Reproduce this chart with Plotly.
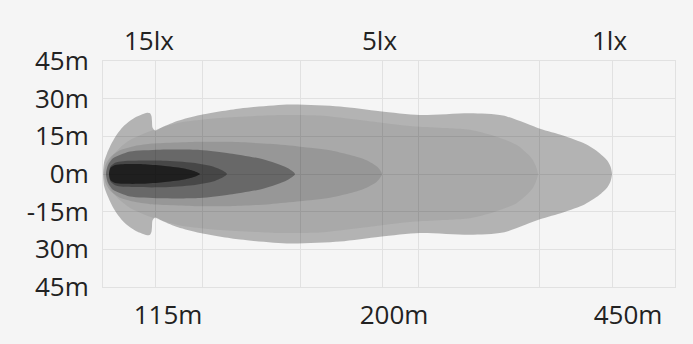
import plotly.graph_objects as go

# ---- data (x in chart distance units, y = half-width in metres) ----
zone_names = ["zone1", "zone2", "zone3", "zone4", "zone5", "zone6"]

zone1_x = [6, 7.5, 12, 20, 40, 60, 80, 91, 97]
zone1_y = [0, 2.5, 3.6, 3.9, 3.9, 3.3, 2.3, 1.2, 0]

zone2_x = [6, 7.5, 12, 20, 60, 90, 110, 120, 124]
zone2_y = [0, 3.0, 4.5, 5.1, 5.3, 4.5, 3.0, 1.3, 0]

zone3_x = [3, 5, 10, 18, 27, 57, 97, 127, 160, 184, 192]
zone3_y = [0, 3.5, 6.3, 7.8, 9.0, 9.7, 9.6, 8.2, 5.9, 2.5, 0]

zone4_x = [1, 3, 8, 17, 30, 47, 97, 127, 167, 197, 227, 260, 274, 279]
zone4_y = [0, 4, 7, 9.5, 11, 12, 12.8, 12.8, 12, 10.9, 9.5, 6.1, 3.0, 0]

zone5_x = [3, 5, 9, 17, 27, 47, 77, 117, 177, 217, 257, 297, 317, 347, 367, 390, 414, 429, 433, 435]
zone5_y = [0, 4, 7, 10.5, 13.5, 17, 20.5, 22.3, 23.5, 23.3, 21.5, 19.5, 18.8, 18.2, 17.6, 15.3, 11.5, 6.1, 3.0, 0]

zone6_x = [0, 1.2, 4, 9, 14, 20, 27, 34, 40, 44, 47, 48.5, 49, 49.5, 52, 60, 75, 97, 137, 187,
           237, 277, 317, 367, 400, 437, 460, 482, 496, 504, 507.5, 509]
zone6_y = [0, 5, 8.2, 12.5, 15.8, 18.8, 21.2, 22.9, 23.9, 24.4, 24.2, 23, 21, 18.5, 17.3, 18.8, 21.2, 23.5, 26.1, 27.7,
           26.9, 25, 23.5, 24.2, 23.3, 18.0, 15.3, 12.0, 8.5, 5.5, 3.0, 0]

y_tickvals = [45, 30, 15, 0, -15, -30, -45]
y_ticktext = ["45m", "30m", "15m", "0m", "-15m", "30m", "45m"]

dist_label_pos = [65, 291, 525]
dist_labels = ["115m", "200m", "450m"]

lux_label_pos = [46, 276, 506]
lux_labels = ["15lx", "5lx", "1lx"]

grid_x = [52, 99, 197, 279, 315, 436, 509]

# ---- style ----
zone_alpha = {"zone6": 0.265, "zone5": 0.056, "zone4": 0.106,
              "zone3": 0.31, "zone2": 0.31, "zone1": 0.56}
zones = {
    "zone1": (zone1_x, zone1_y),
    "zone2": (zone2_x, zone2_y),
    "zone3": (zone3_x, zone3_y),
    "zone4": (zone4_x, zone4_y),
    "zone5": (zone5_x, zone5_y),
    "zone6": (zone6_x, zone6_y),
}

FONT = "Open Sans"
TXT = "#222222"
BG = "#f5f5f5"
GRID = "#e1e1e1"
FS = 26


def outline(xs, ys):
    # closed loop: upper edge left->right, lower edge right->left
    n = len(xs)
    lx = list(xs) + [xs[i] for i in range(n - 2, 0, -1)]
    ly = list(ys) + [-ys[i] for i in range(n - 2, 0, -1)]
    # start the path in the middle of the upper edge so both ends stay rounded
    m = n // 2
    px = lx[m:] + lx[:m + 1]
    py = ly[m:] + ly[:m + 1]
    return px, py


fig = go.Figure()
for name in reversed(zone_names):
    xs, ys = zones[name]
    px, py = outline(xs, ys)
    fig.add_trace(go.Scatter(
        x=px, y=py, mode="lines", fill="toself",
        line=dict(width=0, shape="spline", smoothing=0.7),
        fillcolor=f"rgba(0,0,0,{zone_alpha[name]})",
        hoverinfo="skip", showlegend=False,
    ))

for pos, txt in zip(lux_label_pos, lux_labels):
    fig.add_annotation(x=pos, y=1, xref="x", yref="paper", text=txt,
                       showarrow=False, yanchor="bottom", yshift=1,
                       font=dict(family=FONT, size=FS, color=TXT))

fig.update_layout(
    width=693, height=344,
    margin=dict(l=103, r=18, t=61, b=47),
    paper_bgcolor=BG, plot_bgcolor=BG,
    showlegend=False,
    font=dict(family=FONT, size=FS, color=TXT),
)
fig.update_xaxes(
    range=[0, 572], showgrid=False, zeroline=False,
    tickmode="array", tickvals=dist_label_pos, ticktext=dist_labels,
    ticks="outside", ticklen=5, tickcolor="rgba(0,0,0,0)",
    showline=True, mirror=True, linecolor=GRID, linewidth=1,
    minor=dict(tickmode="array", tickvals=grid_x, showgrid=True,
               gridcolor=GRID, gridwidth=1, ticks=""),
    tickfont=dict(family=FONT, size=FS, color=TXT),
    fixedrange=True,
)
fig.update_yaxes(
    range=[-45, 45], showgrid=True, gridcolor=GRID, zeroline=False,
    tickmode="array", tickvals=y_tickvals, ticktext=y_ticktext,
    ticks="outside", ticklen=8, tickcolor="rgba(0,0,0,0)",
    showline=True, mirror=True, linecolor=GRID, linewidth=1,
    tickfont=dict(family=FONT, size=FS, color=TXT),
    fixedrange=True,
)

fig.write_html("out.html", config={"displayModeBar": False})
